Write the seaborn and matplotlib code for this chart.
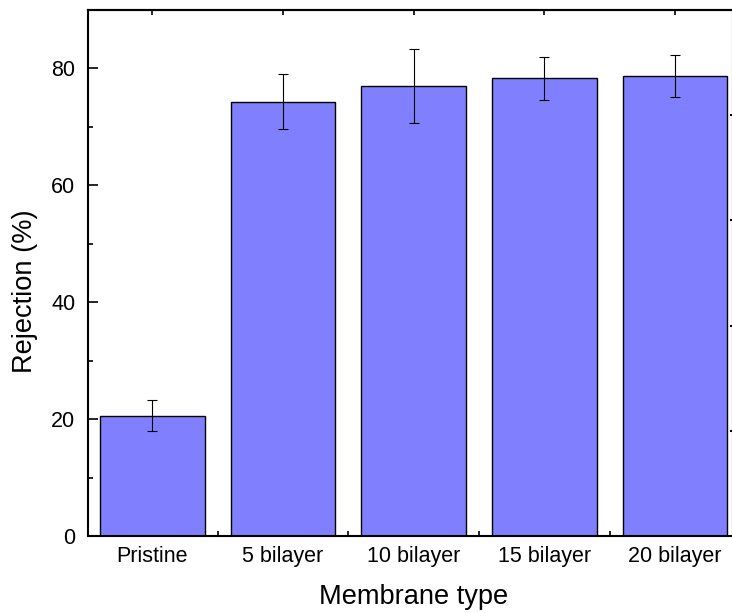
import matplotlib
matplotlib.use("Agg")
import matplotlib.pyplot as plt
import seaborn as sns
import numpy as np
from matplotlib.ticker import MultipleLocator, FixedLocator

# Rejection data for each membrane
membranes = ["Pristine", "5 bilayer", "10 bilayer", "15 bilayer", "20 bilayer"]
rejection = [20.6, 74.3, 77.0, 78.3, 78.7]
rejection_err = [2.6, 4.7, 6.3, 3.7, 3.6]
y_ticks = [0, 20, 40, 60, 80]

sns.set_style("ticks")
plt.rcParams["font.family"] = ["Liberation Sans", "DejaVu Sans"]

fig = plt.figure(figsize=(7.32, 6.13), dpi=100)
W, H = 732, 613
left, right, top, bottom = 87.7, 733.0, 10.0, 536.0
ax = fig.add_axes([left / W, 1 - bottom / H, (right - left) / W, (bottom - top) / H])

sns.barplot(x=membranes, y=rejection, color="#8080ff", saturation=1,
            edgecolor="black", linewidth=1.0, width=0.8, ax=ax)
ax.errorbar(np.arange(len(membranes)), rejection, yerr=rejection_err,
            fmt="none", ecolor="black", elinewidth=0.8, capsize=3.6,
            capthick=0.8, zorder=5)

ax.set_xlim(-0.494, 4.443)
ax.set_ylim(0, 90)
ax.set_yticks(y_ticks)
ax.yaxis.set_minor_locator(MultipleLocator(10))
ax.xaxis.set_minor_locator(FixedLocator([0.5, 1.5, 2.5, 3.5]))

for side in ["left", "bottom", "top", "right"]:
    ax.spines[side].set_visible(True)
    ax.spines[side].set_linewidth(1.5)
    ax.spines[side].set_color("black")

ax.tick_params(which="major", direction="in", length=7.5, width=1.2,
               colors="black", labelsize=15.5, top=False, right=False)
ax.tick_params(which="minor", direction="in", length=3.8, width=1.2,
               colors="black", top=False, right=False)
ax.tick_params(axis="y", which="major", pad=9)
ax.tick_params(axis="x", which="major", pad=7)

# top axis: short ticks at the bar centres
top_ax = ax.secondary_xaxis("top")
top_ax.set_xticks(np.arange(len(membranes)))
top_ax.set_xticklabels([])
top_ax.tick_params(direction="in", length=3.8, width=1.2, colors="black")
top_ax.spines["top"].set_linewidth(1.5)

# right axis on a 0-5 scale
right_ax = ax.secondary_yaxis("right", functions=(lambda v: v / 18.0, lambda v: v * 18.0))
right_ax.set_yticks([1, 2, 3, 4])
right_ax.set_yticklabels([])
right_ax.tick_params(direction="in", length=2.5, width=1.5, colors="black")

ax.set_xlabel("Membrane type", fontsize=19.6, color="black")
ax.set_ylabel("Rejection (%)", fontsize=19.6, color="black")
ax.xaxis.set_label_coords((414 - left) / (right - left), (bottom - 584.0) / (bottom - top))
ax.yaxis.set_label_coords((38 - left) / (right - left), (bottom - 291.5) / (bottom - top))

fig.savefig("out.png", dpi=100)
